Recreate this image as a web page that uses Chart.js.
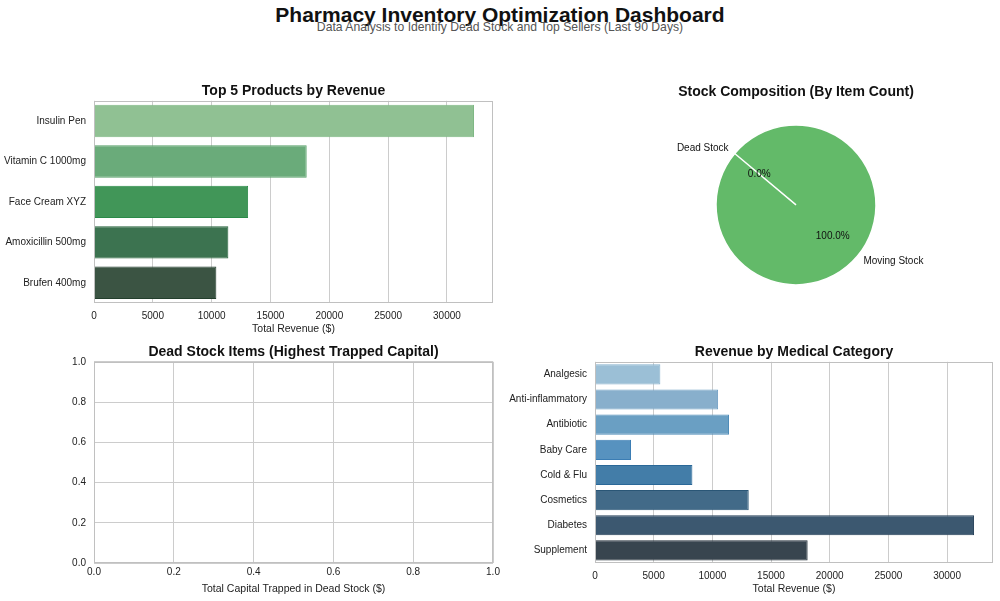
<!DOCTYPE html>
<html>
<head>
<meta charset="utf-8">
<script src="https://cdn.jsdelivr.net/npm/chart.js@4.4.1/dist/chart.umd.min.js"></script>
<style>
  body { margin: 0; background: #fff; width: 1000px; height: 601px; position: relative; overflow: hidden;
         font-family: "Liberation Sans", Arial, sans-serif; }
  canvas { position: absolute; }
  .hd { position: absolute; left: 0; width: 1000px; text-align: center; line-height: 1; white-space: nowrap; }
  #title { top: 4px; font-size: 21px; font-weight: bold; color: #111; }
  #subtitle { top: 21px; font-size: 12.2px; color: #555; }
</style>
</head>
<body>
<div class="hd" id="title">Pharmacy Inventory Optimization Dashboard</div>
<div class="hd" id="subtitle">Data Analysis to Identify Dead Stock and Top Sellers (Last 90 Days)</div>

<canvas id="topProducts" width="500" height="262" style="left:0;top:76px"></canvas>
<canvas id="stockPie" width="320" height="210" style="left:636px;top:84px"></canvas>
<canvas id="deadStock" width="520" height="261" style="left:0;top:337px"></canvas>
<canvas id="categoryRev" width="500" height="261" style="left:500px;top:337px"></canvas>

<script>
// top 5 products
var topProducts = ["Insulin Pen", "Vitamin C 1000mg", "Face Cream XYZ", "Amoxicillin 500mg", "Brufen 400mg"];
var topRevenue = [32300, 18080, 13100, 11420, 10400];

// stock composition (percent of items)
var stockLabels = ["Dead Stock", "Moving Stock"];
var stockCounts = [0, 100];

// dead stock items (none found)
var deadItems = [];
var deadCapital = [];

// revenue per category
var categories = ["Analgesic", "Anti-inflammatory", "Antibiotic", "Baby Care", "Cold & Flu", "Cosmetics", "Diabetes", "Supplement"];
var categoryRevenue = [5570, 10490, 11420, 3070, 8300, 13100, 32300, 18120];

// tick labels
var revenueTicks = [0, 5000, 10000, 15000, 20000, 25000, 30000];
var unitTicks = [0, 0.2, 0.4, 0.6, 0.8, 1.0];

// colours
var greens = ["#90c193", "#6aab7a", "#419658", "#3c7350", "#3b5443"];
var greenEdges = ["#7fb884", "#55a068", "#2a8a48", "#25643b", "#233f2d"];
var blues = ["#9bbfd6", "#88afcc", "#6a9fc3", "#5792bf", "#437da8", "#426a88", "#3c5870", "#38454f"];
var blueEdges = ["#86b1cd", "#6e9ec3", "#4f8cb8", "#3b7db4", "#2a6898", "#2a5676", "#243f58", "#212d37"];

var FONT = '"Liberation Sans", Arial, sans-serif';
Chart.defaults.font.family = FONT;
Chart.defaults.color = "#222";
Chart.defaults.animation = false;

// light frame around the plot area, like the seaborn whitegrid spines
var frame = {
  id: "frame",
  afterDraw: function (chart) {
    var a = chart.chartArea, ctx = chart.ctx;
    ctx.save();
    ctx.strokeStyle = "#c0c0c0";
    ctx.lineWidth = 1;
    ctx.strokeRect(Math.round(a.left) + 0.5, Math.round(a.top) + 0.5,
                   Math.round(a.right - a.left) - 1, Math.round(a.bottom - a.top) - 1);
    ctx.restore();
  }
};

function fixW(w) { return function (s) { s.width = w; }; }
function fixH(h) { return function (s) { s.height = h; }; }
function useTicks(list) {
  return function (axis) { axis.ticks = list.map(function (v) { return { value: v }; }); };
}

function panelTitle(text, pad, full) {
  return { display: true, text: text, fullSize: !!full, color: "#111",
           font: { size: 14, weight: "bold" }, padding: pad };
}

function hbarOptions(title, yWidth, maxVal) {
  return {
    responsive: false,
    indexAxis: "y",
    layout: { padding: { left: 0, right: 7, top: 0, bottom: 0 } },
    plugins: { legend: { display: false }, tooltip: { enabled: false },
               title: panelTitle(title, { top: 7, bottom: 1 }) },
    scales: {
      x: {
        min: 0, max: maxVal * 1.05,
        afterBuildTicks: useTicks(revenueTicks),
        ticks: { padding: 7, font: { size: 10 }, callback: function (v) { return String(v); } },
        grid: { color: "#cccccc", lineWidth: 1, drawTicks: false },
        border: { display: false },
        title: { display: true, text: "Total Revenue ($)", font: { size: 10.5 }, padding: { top: 2, bottom: 3 } },
        afterFit: fixH(35)
      },
      y: {
        ticks: { padding: 8, font: { size: 10 } },
        grid: { display: false, drawTicks: false },
        border: { display: false },
        afterFit: fixW(yWidth)
      }
    }
  };
}

new Chart(document.getElementById("topProducts"), {
  type: "bar",
  data: {
    labels: topProducts,
    datasets: [{ data: topRevenue, backgroundColor: greens, borderColor: greenEdges,
                 borderWidth: 1, barPercentage: 0.8, categoryPercentage: 1 }]
  },
  options: hbarOptions("Top 5 Products by Revenue", 94, Math.max.apply(null, topRevenue)),
  plugins: [frame]
});

new Chart(document.getElementById("categoryRev"), {
  type: "bar",
  data: {
    labels: categories,
    datasets: [{ data: categoryRevenue, backgroundColor: blues, borderColor: blueEdges,
                 borderWidth: 1, barPercentage: 0.8, categoryPercentage: 1 }]
  },
  options: hbarOptions("Revenue by Medical Category", 95, Math.max.apply(null, categoryRevenue)),
  plugins: [frame]
});

// empty dead stock panel
function unitScale(extra) {
  var s = {
    type: "linear", min: 0, max: 1,
    afterBuildTicks: useTicks(unitTicks),
    ticks: { callback: function (v) { return Number(v).toFixed(1); }, font: { size: 10 } },
    grid: { color: "#cccccc", lineWidth: 1, drawTicks: false },
    border: { display: false }
  };
  for (var k in extra) s[k] = extra[k];
  return s;
}

new Chart(document.getElementById("deadStock"), {
  type: "scatter",
  data: {
    labels: deadItems,
    datasets: [{ data: deadCapital }]
  },
  options: {
    responsive: false,
    layout: { padding: { left: 0, right: 27, top: 0, bottom: 0 } },
    plugins: { legend: { display: false }, tooltip: { enabled: false },
               title: panelTitle("Dead Stock Items (Highest Trapped Capital)", { top: 7, bottom: 1 }) },
    scales: {
      x: unitScale({
        title: { display: true, text: "Total Capital Trapped in Dead Stock ($)", font: { size: 10.5 }, padding: { top: 2, bottom: 3 } },
        afterFit: fixH(35)
      }),
      y: unitScale({ ticks: { padding: 8, font: { size: 10 }, callback: function (v) { return Number(v).toFixed(1); } },
                     afterFit: fixW(94) })
    }
  },
  plugins: [frame]
});

// pie labels placed like matplotlib (label at 1.1 r, percent at 0.6 r)
var pieLabels = {
  id: "pieLabels",
  afterDatasetsDraw: function (chart) {
    var ctx = chart.ctx;
    var meta = chart.getDatasetMeta(0);
    var vals = chart.data.datasets[0].data;
    var total = vals.reduce(function (a, b) { return a + b; }, 0);
    ctx.save();
    ctx.font = "10px " + FONT;
    ctx.fillStyle = "#111";
    ctx.textBaseline = "middle";
    meta.data.forEach(function (arc, i) {
      var p = arc.getProps(["x", "y", "startAngle", "endAngle", "outerRadius"]);
      var mid = (p.startAngle + p.endAngle) / 2;
      var c = Math.cos(mid), s = Math.sin(mid);
      ctx.textAlign = c < 0 ? "right" : "left";
      ctx.fillText(chart.data.labels[i], p.x + c * p.outerRadius * 1.1, p.y + s * p.outerRadius * 1.1);
      ctx.textAlign = "center";
      ctx.fillText((vals[i] / total * 100).toFixed(1) + "%", p.x + c * p.outerRadius * 0.6, p.y + s * p.outerRadius * 0.6);
    });
    ctx.restore();
  }
};

new Chart(document.getElementById("stockPie"), {
  type: "pie",
  data: {
    labels: stockLabels,
    datasets: [{ data: stockCounts, backgroundColor: ["#e15759", "#63ba69"],
                 borderColor: "#ffffff", borderWidth: 1.5 }]
  },
  options: {
    responsive: false,
    rotation: -50,
    radius: 80,
    layout: { padding: { left: 0, right: 0, top: 0, bottom: 9 } },
    plugins: { legend: { display: false }, tooltip: { enabled: false },
               title: panelTitle("Stock Composition (By Item Count)", { top: 0, bottom: 24 }, true) }
  },
  plugins: [pieLabels]
});
</script>
</body>
</html>
